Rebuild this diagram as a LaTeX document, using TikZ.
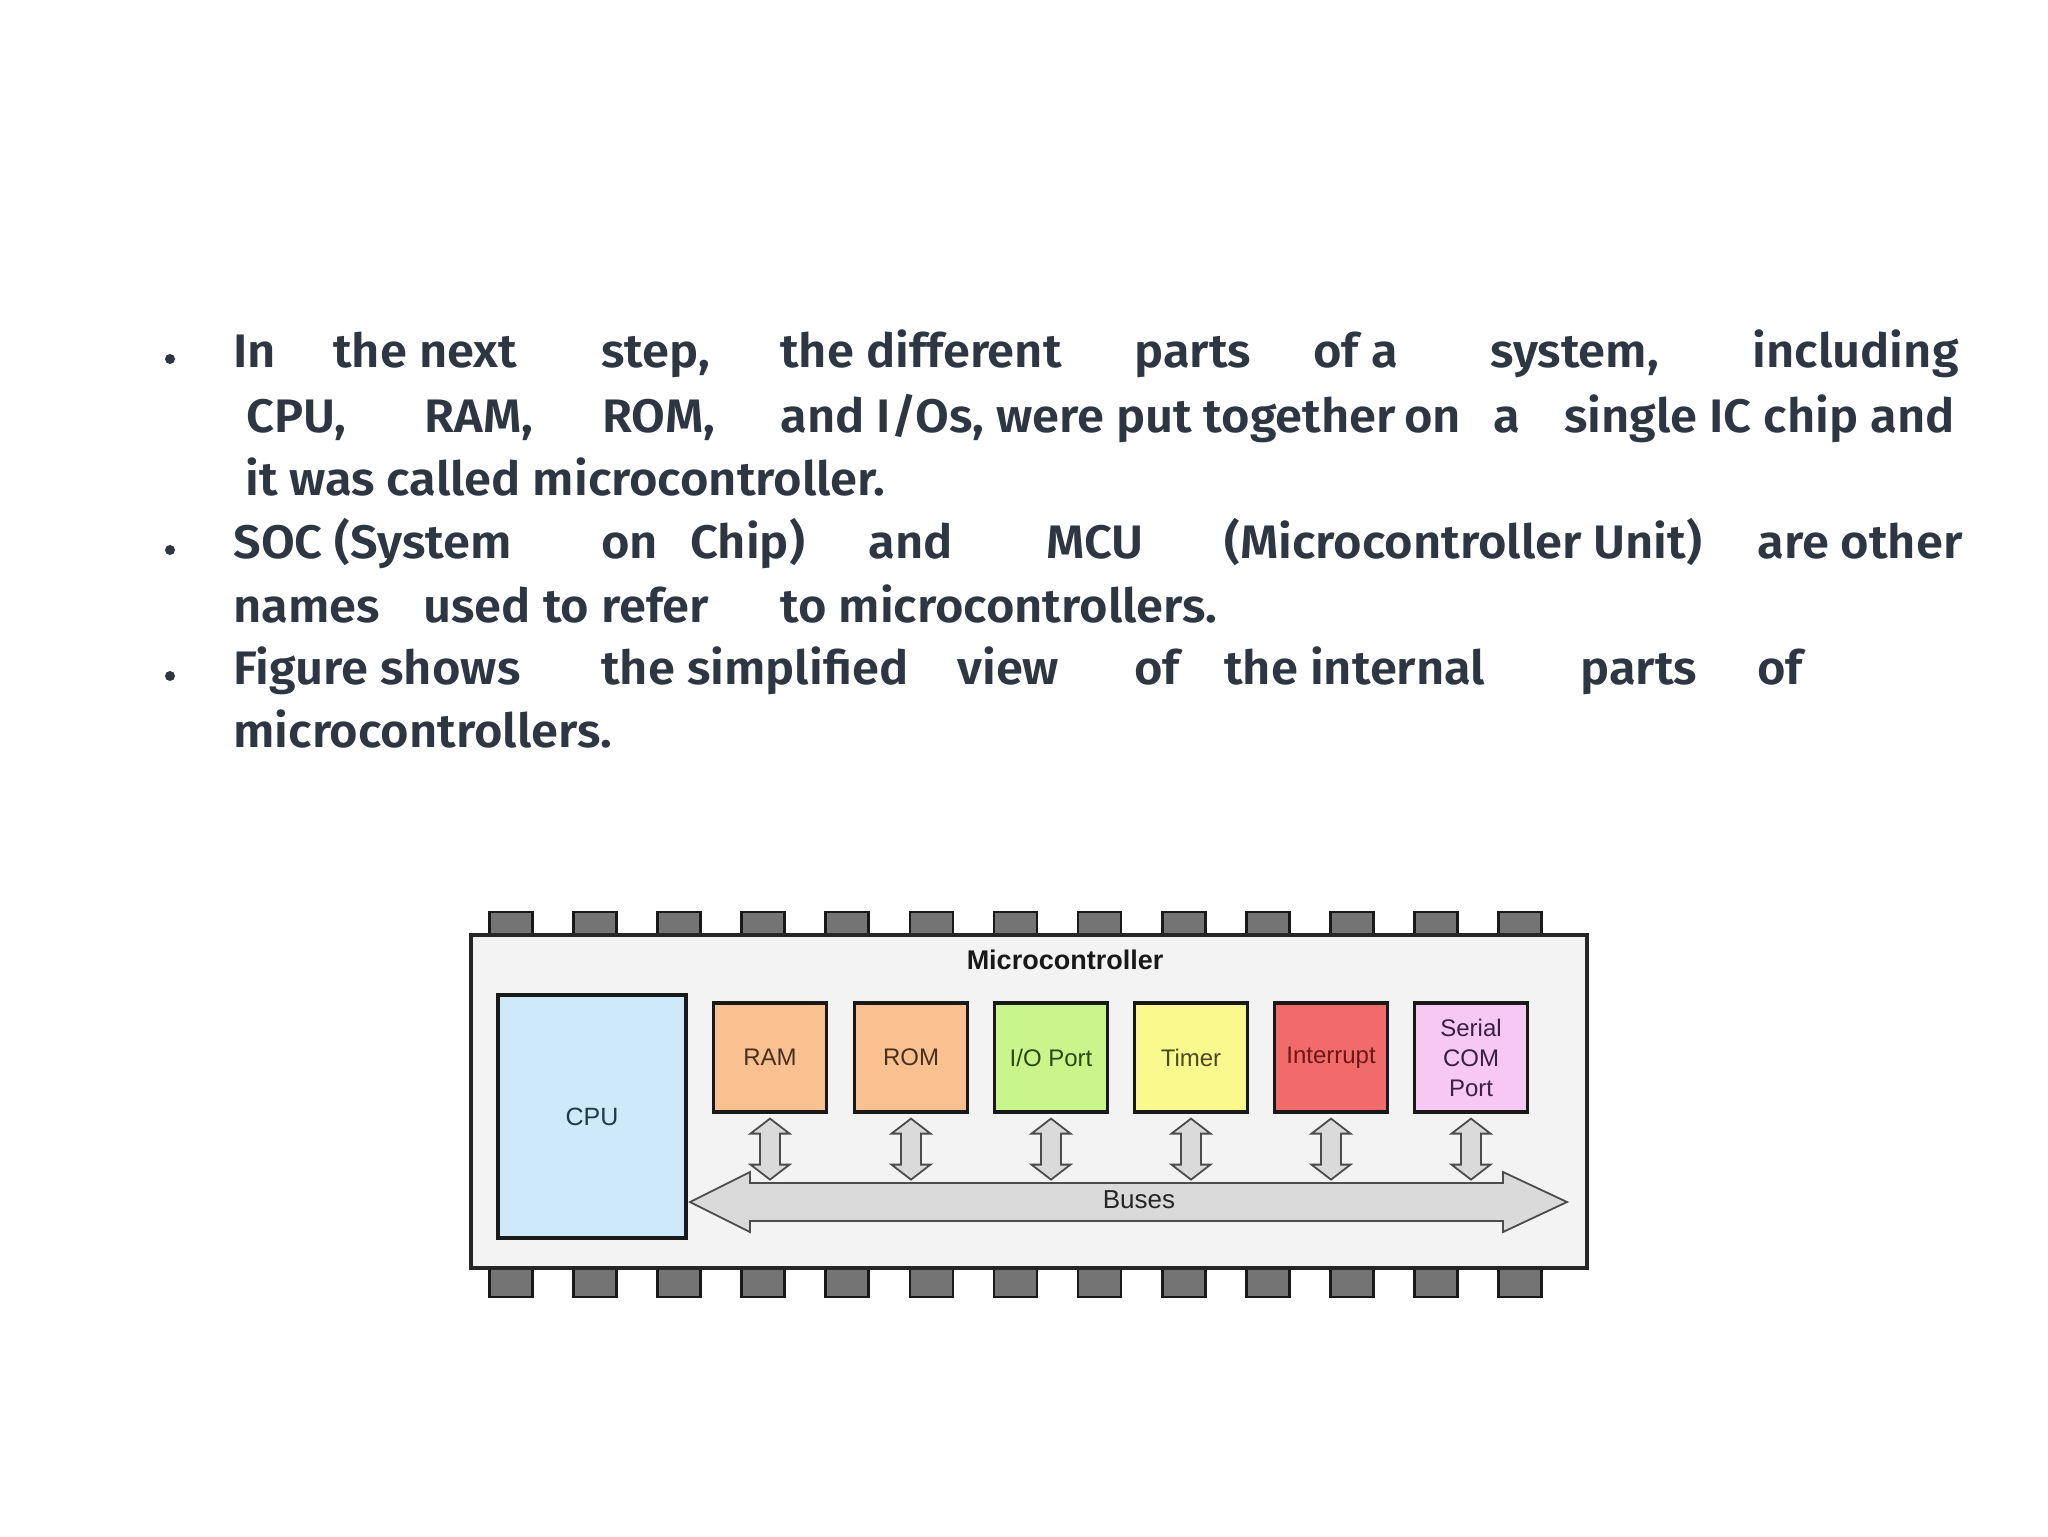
\documentclass[tikz,border=0pt]{standalone}
\usepackage{fontspec}
\setmainfont{Fira Sans}[BoldFont={Fira Sans SemiBold}, FakeStretch=1.04]
\newfontfamily\diagfont{Liberation Sans}
\usetikzlibrary{calc}
\definecolor{txtcol}{HTML}{2E3642}
\definecolor{chipfill}{HTML}{F3F3F3}
\definecolor{pinfill}{HTML}{747474}
\definecolor{cpufill}{HTML}{CDE9FA}
\definecolor{memfill}{HTML}{F9C18F}
\definecolor{iofill}{HTML}{C8F58C}
\definecolor{timfill}{HTML}{FAF98E}
\definecolor{intfill}{HTML}{F26B6B}
\definecolor{serfill}{HTML}{F8C8F5}
\definecolor{busfill}{HTML}{DADADA}
\definecolor{cputxt}{HTML}{1F3A4A}
\definecolor{memtxt}{HTML}{4A3020}
\definecolor{iotxt}{HTML}{2A4A10}
\definecolor{timtxt}{HTML}{4A4A20}
\definecolor{inttxt}{HTML}{6A1818}
\definecolor{sertxt}{HTML}{3A2040}
\tikzset{
  txt/.style={anchor=base west, inner sep=0pt, font=\fontsize{23.5}{27}\selectfont\bfseries, text=txtcol},
  txtr/.style={txt, anchor=base east},
  bul/.style={circle, fill=txtcol, inner sep=0pt, minimum size=5pt},
  pinbox/.style={draw=black!90, line width=1.4pt, fill=pinfill},
  chipbox/.style={draw=black!85, line width=2.3pt, fill=chipfill},
  blk/.style={draw=black!90, line width=1.6pt, minimum width=56.5pt, minimum height=54.5pt, inner sep=0pt, align=center, font=\diagfont\fontsize{12}{15}\selectfont},
  dastyle/.style={draw=black!70, line width=0.9pt, fill=busfill, line join=miter},
  busstyle/.style={draw=black!70, line width=0.9pt, fill=busfill, line join=miter},
  lbl/.style={inner sep=0pt, font=\diagfont\fontsize{13}{15}\selectfont, text=black!85}
}
\begin{document}
\begin{tikzpicture}[x=0.5pt,y=-0.5pt]
\useasboundingbox[fill=white] (0,0) rectangle (2048,1536);

% ---- bullets ----
\node[bul] (b1) at (170,359) {};
\node[bul] (b2) at (170,550) {};
\node[bul] (b3) at (170,676) {};

% ---- line 1 ----
\node[txt] (l1a) at (233,367) {In};
\node[txt] (l1b) at (333,367) {the next};
\node[txt] (l1c) at (601,367) {step,};
\node[txt] (l1d) at (780,367) {the different};
\node[txt] (l1e) at (1134,367) {parts};
\node[txt] (l1f) at (1313,367) {of a};
\node[txt] (l1g) at (1490,367) {system,};
\node[txtr] (l1h) at (1959,367) {including};
% ---- line 2 ----
\node[txt] (l2a) at (246,432) {CPU,};
\node[txt] (l2b) at (424,432) {RAM,};
\node[txt] (l2c) at (602,432) {ROM,};
\node[txt] (l2d) at (780,432) {and I/Os, were put together};
\node[txt] (l2e) at (1404,432) {on};
\node[txt] (l2f) at (1493,432) {a};
\node[txtr] (l2g) at (1955,432) {single IC chip and};
% ---- line 3 ----
\node[txt] (l3a) at (245,495) {it was called microcontroller.};
% ---- line 4 ----
\node[txt] (l4a) at (233,558) {SOC (System};
\node[txt] (l4b) at (601,558) {on};
\node[txt] (l4c) at (690,558) {Chip)};
\node[txt] (l4d) at (868,558) {and};
\node[txt] (l4e) at (1046,558) {MCU};
\node[txt] (l4f) at (1224,558) {(Microcontroller Unit)};
\node[txtr] (l4g) at (1963,558) {are other};
% ---- line 5 ----
\node[txt] (l5a) at (233,622) {names};
\node[txt] (l5b) at (423,622) {used to};
\node[txt] (l5c) at (601,622) {refer};
\node[txt] (l5d) at (780,622) {to microcontrollers.};
% ---- line 6 ----
\node[txt] (l6a) at (233,684) {Figure shows};
\node[txt] (l6b) at (601,684) {the simplified};
\node[txt] (l6c) at (957,684) {view};
\node[txt] (l6d) at (1134,684) {of};
\node[txt] (l6e) at (1224,684) {the internal};
\node[txt] (l6f) at (1580,684) {parts};
\node[txt] (l6g) at (1757,684) {of};
% ---- line 7 ----
\node[txt] (l7a) at (233,747) {microcontrollers.};

% ---- pins ----
\foreach \i in {0,...,12}{
  \pgfmathsetmacro\cx{511+84.08*\i}
  \draw[pinbox] (\cx-21.5,912) rectangle (\cx+21.5,937);
  \draw[pinbox] (\cx-21.5,1268) rectangle (\cx+21.5,1297);
}
% ---- chip body ----
\draw[chipbox] (471,935) rectangle (1587,1268);
\node[lbl, font=\diagfont\bfseries\fontsize{13.5}{15}\selectfont, text=black!90] (title) at (1065,960) {Microcontroller};

% ---- blocks ----
\node[blk, fill=cpufill, minimum width=94pt, minimum height=121.5pt, text=cputxt, font=\diagfont\fontsize{12.5}{15}\selectfont] (cpu) at (592,1116.5) {CPU};
\node[blk, fill=memfill, text=memtxt] (ram) at (770,1057.5) {RAM};
\node[blk, fill=memfill, text=memtxt] (rom) at (911,1057.5) {ROM};
\node[blk, fill=iofill, text=iotxt] (io) at (1051,1057.5) {I/O Port};
\node[blk, fill=timfill, text=timtxt] (tim) at (1191,1057.5) {Timer};
\node[blk, fill=intfill, text=inttxt] (int) at (1331,1057.5) {Interrupt};
\node[blk, fill=serfill, text=sertxt] (ser) at (1471,1057.5) {Serial\\COM\\Port};

% ---- bus ----
\coordinate (busL) at (690,1202);
\coordinate (busR) at (1567,1202);
\draw[busstyle] (busL) -- ++(60,-30) -- ++(0,11) -- ($(busR)+(-64,-19)$) -- ++(0,-11) -- (busR) -- ++(-64,30) -- ++(0,-11) -- ($(busL)+(60,19)$) -- ++(0,11) -- cycle;
\node[lbl] (buslbl) at (1139,1200) {Buses};

% ---- vertical double arrows ----
\foreach \b in {ram,rom,io,tim,int,ser}{
  \draw[dastyle] ($(\b.south)+(0,5)$) -- ++(19.5,15) -- ++(-9.5,0) -- ++(0,31) -- ++(9.5,0) -- ++(-19.5,15) -- ++(-19.5,-15) -- ++(9.5,0) -- ++(0,-31) -- ++(-9.5,0) -- cycle;
}
\end{tikzpicture}
\end{document}
